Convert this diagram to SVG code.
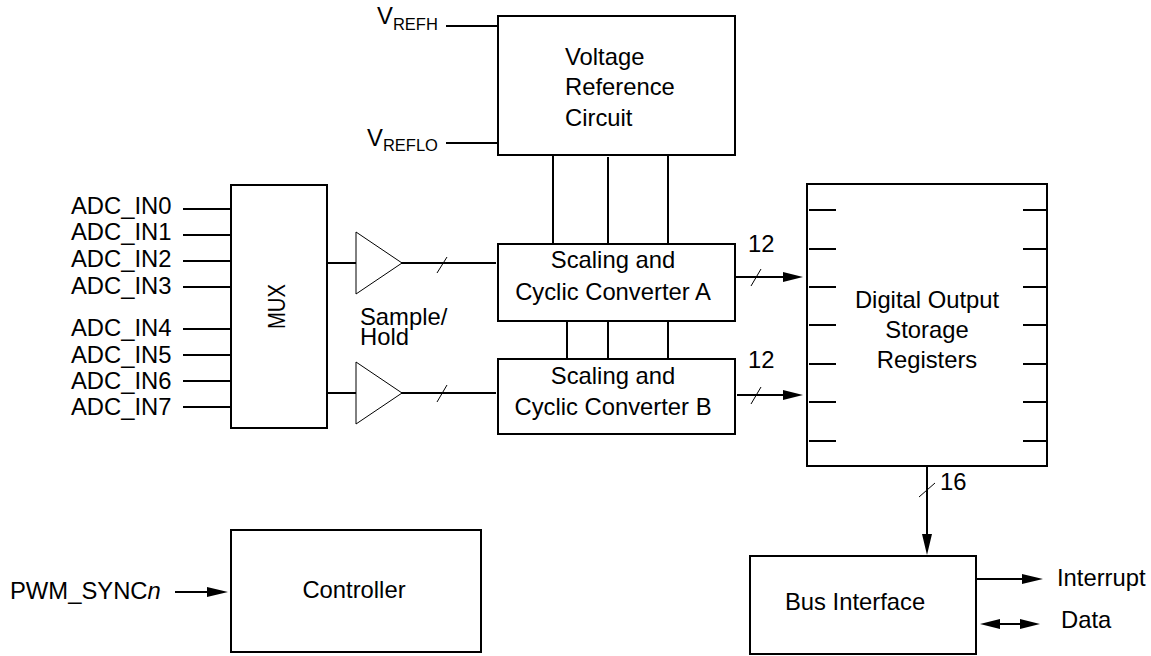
<svg xmlns="http://www.w3.org/2000/svg" width="1151" height="656" viewBox="0 0 1151 656">
<style>
text{font-family:"Liberation Sans",Arial,sans-serif;font-size:23.8px;fill:#000}
.b{fill:none;stroke:#000;stroke-width:2}
.c .w{fill:none;stroke:#000;stroke-width:2}
.c .t{fill:none;stroke:#000;stroke-width:1}
.c .h{fill:#000;stroke:none}
.s{font-size:16.5px}
</style>
<rect width="1151" height="656" fill="#fff"/>
<g id="connectors" class="c">
<path class="w" d="M446 26H498M446 143H498"/>
<path class="w" d="M553 155V244M608 157V244M668 155V244"/>
<path class="w" d="M567 321V359M608 321V359M668 321V359"/>
<path class="w" d="M183 209H231M183 235H231M183 261H231M183 287H231M183 329H231M183 355H231M183 381H231M183 407H231"/>
<path class="w" d="M327 263H356M327 393H356"/>
<path class="w" d="M401 263H496M401 393H496"/>
<path class="w" d="M735 277H785M737 395H785"/>
<path class="w" d="M927 466V536M976 579H1024M995 624H1022"/>
<path class="w" d="M175 592H208"/>
<path class="w" d="M809 210H836M809 249H836M809 287H836M809 325H836M809 364H836M809 402H836M809 441H836"/>
<path class="w" d="M1023 210H1047M1023 249H1047M1023 287H1047M1023 325H1047M1023 364H1047M1023 402H1047M1023 441H1047"/>
<path class="t" d="M437 273L447 257M437 402L447 385M751 286L761 269M751 404L761 387M919 497L935 483"/>
<path class="h" d="M783 272L803 277L783 282ZM783 390L803 395L783 400ZM922 534H932L927 555ZM1022 574L1043 579L1022 584ZM1020 619L1040 624L1020 629ZM980 624L1000 619V629ZM207 587L228 592L207 597Z"/>
</g>
<g id="voltage-reference"><rect class="b" x="498" y="16" width="237" height="139"/><text x="565" y="65">Voltage</text><text x="565" y="95">Reference</text><text x="565" y="126">Circuit</text></g>
<g id="vrefh"><text x="377" y="24">V<tspan class="s" dy="6">REFH</tspan></text></g>
<g id="vreflo"><text x="367" y="146">V<tspan class="s" dy="5">REFLO</tspan></text></g>
<g id="inputs">
<text x="71" y="214">ADC_IN0</text><text x="71" y="240">ADC_IN1</text><text x="71" y="267">ADC_IN2</text><text x="71" y="294">ADC_IN3</text><text x="71" y="336">ADC_IN4</text><text x="71" y="363">ADC_IN5</text><text x="71" y="389">ADC_IN6</text><text x="71" y="415">ADC_IN7</text></g>
<g id="mux"><rect class="b" x="231" y="185" width="96" height="243"/><text transform="translate(285 306.5) rotate(-90)" text-anchor="middle" style="font-size:23px" textLength="45" lengthAdjust="spacingAndGlyphs">MUX</text></g>
<g id="amp-a"><path d="M356 232L402 263L356 294Z" fill="none" stroke="#000"/></g>
<g id="amp-b"><path d="M356 362L402 393L356 424Z" fill="none" stroke="#000"/></g>
<g id="sample-hold"><text x="360" y="325">Sample/</text><text x="360" y="345">Hold</text></g>
<g id="converter-a"><rect class="b" x="498" y="244" width="237" height="77"/><text x="613" y="268" text-anchor="middle">Scaling and</text><text x="613" y="300" text-anchor="middle">Cyclic Converter A</text></g>
<g id="converter-b"><rect class="b" x="498" y="359" width="237" height="75"/><text x="613" y="384" text-anchor="middle">Scaling and</text><text x="613" y="415" text-anchor="middle">Cyclic Converter B</text></g>
<g id="labels"><text x="748" y="252">12</text><text x="748" y="368">12</text><text x="940" y="490">16</text></g>
<g id="registers"><rect class="b" x="807" y="184" width="240" height="282"/><text x="927" y="308" text-anchor="middle">Digital Output</text><text x="927" y="338" text-anchor="middle">Storage</text><text x="927" y="368" text-anchor="middle">Registers</text></g>
<g id="bus-interface"><rect class="b" x="750" y="556" width="226" height="98"/><text x="785" y="610">Bus Interface</text></g>
<g id="interrupt"><text x="1057" y="586">Interrupt</text></g>
<g id="data"><text x="1061" y="628">Data</text></g>
<g id="controller"><rect class="b" x="231" y="530" width="250" height="122"/><text x="354" y="598" text-anchor="middle">Controller</text></g>
<g id="pwm"><text x="10" y="599">PWM_SYNC<tspan font-style="italic">n</tspan></text></g>
</svg>
